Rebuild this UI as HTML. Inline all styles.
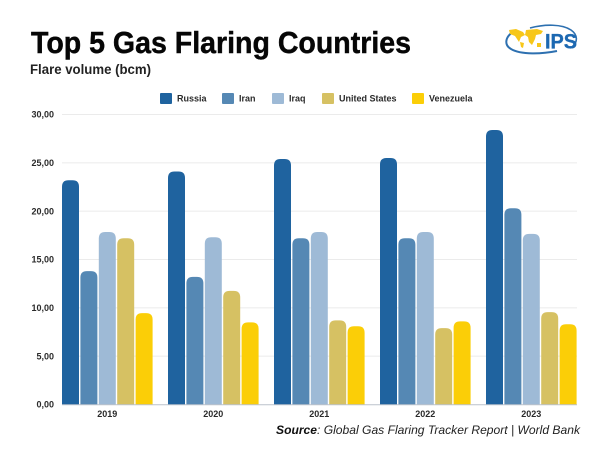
<!DOCTYPE html>
<html lang="en">
<head>
<meta charset="utf-8">
<title>Top 5 Gas Flaring Countries</title>
<style>
html,body{margin:0;padding:0;background:#fff;}
body{width:600px;height:449px;overflow:hidden;}
svg{display:block;font-family:"Liberation Sans",sans-serif;}
</style>
</head>
<body>
<svg id="chart" xmlns="http://www.w3.org/2000/svg" width="600" height="449" viewBox="0 0 600 449">
  <rect width="600" height="449" fill="#ffffff"/>
  <text x="31" y="53" font-size="31" font-weight="700" fill="#060606" stroke="#060606" stroke-width="0.45" textLength="380" lengthAdjust="spacingAndGlyphs">Top 5 Gas Flaring Countries</text>
  <text x="30" y="74" font-size="13.5" font-weight="700" fill="#222222" textLength="121" lengthAdjust="spacingAndGlyphs">Flare volume (bcm)</text>
  <g>
    <path d="M513 32 C505 37 504 45 511 49 C521 55 542 54 557 51" fill="none" stroke="#2d70b0" stroke-width="2"/>
    <path d="M530 28 C545 24 562 24 571 30 C578 35 578 42 572 47" fill="none" stroke="#2d70b0" stroke-width="1.6"/>
    <path d="M509 30 L516 29 L523 32 L525 35 L521 37 L519 42 L515 36 L510 34 Z M520 42 L524 43 L523 48 L521 47 Z M526 30 L537 29 L543 31 L541 34 L536 35 L535 39 L532 45 L529 42 L528 37 L525 35 Z M537 43 L541 43 L541 47 L537 47 Z" fill="#f7c719"/>
    <text x="545" y="48.5" font-size="21" font-weight="700" fill="#1c68b1" stroke="#1c68b1" stroke-width="0.3" textLength="32" lengthAdjust="spacingAndGlyphs">IPS</text>
  </g>
  <g id="grid"></g>
  <g id="yticks"></g>
  <g id="bars"></g>
  <g id="xticks"></g>
  <g id="legend"></g>
  <text x="580" y="434" text-anchor="end" font-size="12" font-style="italic" fill="#222222" textLength="304" lengthAdjust="spacingAndGlyphs"><tspan font-weight="700" fill="#111111">Source</tspan>: Global Gas Flaring Tracker Report | World Bank</text>
</svg>
<script>
const years = ['2019', '2020', '2021', '2022', '2023'];
const russia = [23.2, 24.1, 25.4, 25.5, 28.4];
const iran = [13.8, 13.2, 17.2, 17.2, 20.3];
const iraq = [17.85, 17.3, 17.85, 17.85, 17.65];
const unitedStates = [17.2, 11.75, 8.7, 7.9, 9.55];
const venezuela = [9.45, 8.5, 8.1, 8.6, 8.3];
const seriesNames = ['Russia', 'Iran', 'Iraq', 'United States', 'Venezuela'];
const seriesColors = ['#1f639f', '#5588b4', '#9ebad6', '#d6c163', '#fbce07'];
const yTickValues = [0, 5, 10, 15, 20, 25, 30];
const yTickLabels = ['0,00', '5,00', '10,00', '15,00', '20,00', '25,00', '30,00'];

const allSeries = [russia, iran, iraq, unitedStates, venezuela];
const NS = 'http://www.w3.org/2000/svg';
const plot = { left: 62, right: 577, top: 114.5, bottom: 404.5, yMax: 30 };
const groupStep = 106;
const barStep = 18.4;
const barWidth = 17;

function yScale(v) {
  return plot.bottom - (v / plot.yMax) * (plot.bottom - plot.top);
}
function xScale(groupIndex, seriesIndex) {
  return plot.left + groupIndex * groupStep + seriesIndex * barStep;
}
function make(tag, attrs, parent) {
  const el = document.createElementNS(NS, tag);
  for (const k in attrs) el.setAttribute(k, attrs[k]);
  parent.appendChild(el);
  return el;
}

const gridG = document.getElementById('grid');
const yG = document.getElementById('yticks');
yTickValues.forEach(function (v, i) {
  const y = yScale(v);
  if (v !== 0) {
    const line = make('line', { x1: plot.left, x2: plot.right, y1: y, y2: y, stroke: '#ebebeb', 'stroke-width': 1 }, gridG);
    
    
  }
  const t = make('text', { x: 54, y: y + 3.2, 'text-anchor': 'end', 'font-size': 9, 'font-weight': 700, fill: '#2a2a2a' }, yG);
  t.textContent = yTickLabels[i];
  
  
});

const barsG = document.getElementById('bars');
allSeries.forEach(function (values, s) {
  values.forEach(function (v, g) {
    const x = xScale(g, s);
    const top = yScale(v);
    const r = 6.5;
    const d = 'M' + x + ' ' + plot.bottom + 'V' + (top + r) +
      'Q' + x + ' ' + top + ' ' + (x + r) + ' ' + top +
      'H' + (x + barWidth - r) +
      'Q' + (x + barWidth) + ' ' + top + ' ' + (x + barWidth) + ' ' + (top + r) +
      'V' + plot.bottom + 'Z';
    const bar = make('path', { d: d, fill: seriesColors[s] }, barsG);
    
    
  });
});

const xG = document.getElementById('xticks');
const axis = make('line', { x1: plot.left, x2: plot.right, y1: plot.bottom + 0.3, y2: plot.bottom + 0.3, stroke: '#bcc2cc', 'stroke-width': 1 }, xG);


years.forEach(function (yr, g) {
  const cx = xScale(g, 2) + barWidth / 2;
  const t = make('text', { x: cx, y: 417, 'text-anchor': 'middle', 'font-size': 9, 'font-weight': 700, fill: '#2a2a2a' }, xG);
  t.textContent = yr;
  
  
});

const legendG = document.getElementById('legend');
const legendSwatchX = [160, 222, 272, 322, 412];
seriesNames.forEach(function (name, i) {
  const sw = make('rect', { x: legendSwatchX[i], y: 93, width: 12, height: 11, rx: 1, fill: seriesColors[i] }, legendG);
  
  
  const t = make('text', { x: legendSwatchX[i] + 17, y: 101.5, 'font-size': 9, 'font-weight': 700, fill: '#2a2a2a' }, legendG);
  t.textContent = name;
  
  
});
</script>
</body>
</html>
